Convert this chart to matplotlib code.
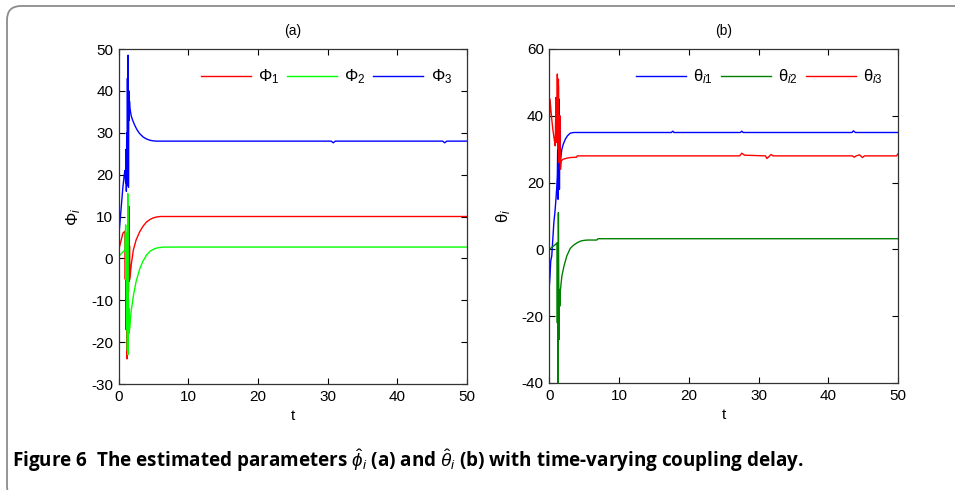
import numpy as np
import matplotlib
matplotlib.use('Agg')
import matplotlib.pyplot as plt
from matplotlib.patches import FancyBboxPatch
from matplotlib.transforms import IdentityTransform

plt.rcParams['font.family'] = ['Liberation Sans', 'DejaVu Sans']
plt.rcParams['mathtext.fontset'] = 'custom'
plt.rcParams['mathtext.rm'] = 'Liberation Sans'
plt.rcParams['mathtext.it'] = 'Liberation Sans:italic'
plt.rcParams['axes.unicode_minus'] = False

# (a) estimated phi_i
t_phi1 = [0, 0.3, 0.6, 0.9, 0.95, 1.0, 1.05, 1.1, 1.15, 1.2, 1.25, 1.3, 1.35, 1.4, 1.45, 1.5,
          1.55, 1.6, 1.8, 2.1, 2.5, 3.0, 3.5, 4.0, 4.5, 5.0, 5.5, 6.0, 50]
phi1 = [2.0, 4.0, 6.0, 6.5, -5, 5, -17, 3, -12, -24, 0, -20, 8, -8, 12.5, -5.5,
        3, -5, -1.5, 2, 4.4, 6.3, 7.7, 8.7, 9.3, 9.7, 9.9, 10, 10]
t_phi2 = [0, 0.3, 0.6, 0.9, 1.0, 1.05, 1.1, 1.15, 1.2, 1.25, 1.3, 1.35, 1.4, 1.45, 1.5, 1.55,
          1.6, 1.8, 2.1, 2.5, 3.0, 3.5, 4.0, 4.5, 5.0, 5.5, 6.0, 6.5, 50]
phi2 = [0.5, 1.0, 1.5, 2.0, 8, -5, 6, -17, -5, -22, 15.5, -23, -10, -18, -12, -17,
        -16, -12.5, -9, -5.5, -2.6, -0.6, 0.8, 1.7, 2.2, 2.5, 2.6, 2.7, 2.7]
t_phi3 = [0, 0.2, 0.4, 0.6, 0.8, 0.9, 1.0, 1.05, 1.1, 1.15, 1.2, 1.25, 1.3, 1.35, 1.4, 1.45,
          1.5, 1.55, 1.6, 1.7, 1.8, 2.0, 2.3, 2.6, 3.0, 3.5, 4.0, 4.5, 5.0, 5.5,
          30.5, 30.8, 31.1, 46.5, 46.8, 47.1, 50]
phi3 = [5, 9, 13, 17, 20, 21, 18, 26, 16, 30, 17.5, 43, 22, 48.5, 17, 40,
        33, 37.5, 36, 35, 34, 33, 31.8, 30.8, 29.8, 29, 28.5, 28.2, 28.05, 28,
        28, 27.6, 28, 28, 27.6, 28, 28]

# (b) estimated theta_i
t_th1 = [0, 0.1, 0.2, 0.35, 0.5, 0.65, 0.8, 0.95, 1.05, 1.15, 1.2, 1.25, 1.3, 1.35, 1.4,
         1.45, 1.5, 1.55, 1.6, 1.7, 1.8, 2.0, 2.3, 2.6, 3.0, 3.5, 4.0, 4.5, 5.0, 5.5, 6.0,
         17.5, 17.7, 17.9, 27.4, 27.6, 27.8, 43.4, 43.6, 43.9, 50]
th1 = [-11, -8, -3.5, -2, 3, 8, 11, 15, 18, 22, 30, 15, 49, 20, 45,
       18, 40, 24, 26, 28.5, 30, 31.5, 33, 34, 34.8, 35, 35, 35, 35, 35, 35,
       35, 35.4, 35, 35, 35.4, 35, 35, 35.5, 35, 35]
t_th2 = [0, 0.3, 0.6, 0.9, 1.1, 1.15, 1.2, 1.25, 1.3, 1.35, 1.4, 1.45, 1.5, 1.55, 1.6,
         1.65, 1.8, 2.1, 2.5, 3.0, 3.5, 4.0, 4.5, 5.0, 5.5, 6.0, 6.8, 7.0, 50]
th2 = [0, 0.5, 1, 1.5, 2, -22, 1, -45, 11, -10, -27, -12, -17, -13, -12,
       -11, -8, -5, -2, 0.3, 1.3, 2, 2.5, 2.7, 2.8, 2.8, 2.8, 3.2, 3.2]
t_th3 = [0, 0.1, 0.3, 0.5, 0.7, 0.85, 0.95, 1.05, 1.15, 1.25, 1.3, 1.4, 1.5, 1.6, 1.7,
         2.0, 2.5, 3.0, 3.9, 4.0, 27.3, 27.6, 28.0, 31.0, 31.2, 31.5, 31.8, 32.1,
         43.5, 43.7, 44.0, 44.5, 44.9, 45.2, 49.8, 50]
th3 = [38, 45, 40, 36, 33, 31, 45.5, 32, 52.5, 30, 51, 26, 40, 24, 26.5,
       27, 27.3, 27.5, 27.6, 28, 28, 28.8, 28.2, 28, 27.2, 27.8, 28.4, 28,
       28, 27.6, 28, 28.3, 27.5, 28, 28, 28.6]

fig = plt.figure(figsize=(9.55, 4.9), dpi=100)

frame = FancyBboxPatch((7, -10), 970, 484 + 10, boxstyle='round,pad=0,rounding_size=14',
                       transform=IdentityTransform(), facecolor='none',
                       edgecolor='#8c8c8c', linewidth=1.3)
fig.patches.append(frame)

ax1 = fig.add_axes([0.1243, 0.2163, 0.3647, 0.6837])
ax2 = fig.add_axes([0.5752, 0.2184, 0.3651, 0.6816])

ax1.plot(t_phi1, phi1, color='#ff0000', lw=1.0, label='Φ$_1$')
ax1.plot(t_phi2, phi2, color='#00ff00', lw=1.0, label='Φ$_2$')
ax1.plot(t_phi3, phi3, color='#0000ff', lw=1.0, label='Φ$_3$')
ax1.set_ylim(-30, 50)
ax1.set_yticks(range(-30, 51, 10))
ax1.set_ylabel('Φ$_i$', fontsize=12, labelpad=6)

ax2.plot(t_th1, th1, color='#0000ff', lw=1.0, label='θ$_{i1}$')
ax2.plot(t_th2, th2, color='#008000', lw=1.0, label='θ$_{i2}$')
ax2.plot(t_th3, th3, color='#ff0000', lw=1.0, label='θ$_{i3}$')
ax2.set_ylim(-40, 60)
ax2.set_yticks(range(-40, 61, 20))
ax2.set_ylabel('θ$_i$', fontsize=12, labelpad=6)

for ax, lab in ((ax1, '(a)'), (ax2, '(b)')):
    ax.set_xlim(0, 50)
    ax.set_xticks(range(0, 51, 10))
    ax.set_xlabel('t', fontsize=11, labelpad=4)
    ax.set_title(lab, fontsize=10, pad=10)
    ax.tick_params(direction='in', top=True, right=True, length=4, labelsize=11, pad=4)
    for s in ax.spines.values():
        s.set_linewidth(0.9)
        s.set_color('#333333')
    ax.legend(loc='upper right', ncol=3, frameon=False, fontsize=12,
              handlelength=3.0, columnspacing=0.45, handletextpad=0.45,
              bbox_to_anchor=(1.0, 0.99))

fig.text(0.0126, 0.047,
         r'Figure 6  The estimated parameters $\hat{\phi}_i$ (a) and $\hat{\theta}_i$ (b) with time-varying coupling delay.',
         fontsize=13.6, fontweight='bold', family=['Open Sans', 'DejaVu Sans'])

fig.savefig('out.png', dpi=100)
